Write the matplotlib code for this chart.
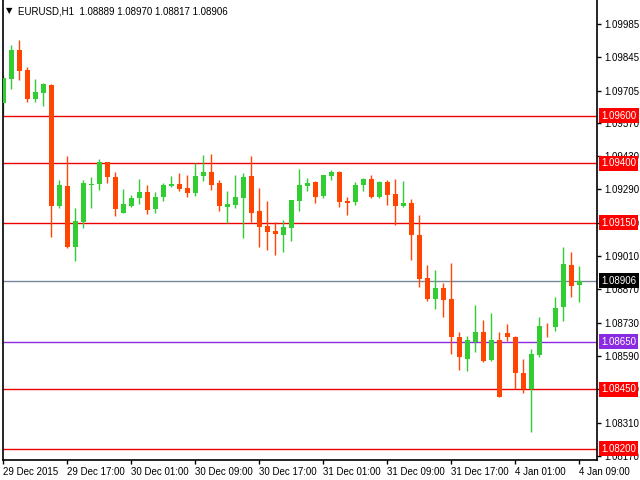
import matplotlib.pyplot as plt
import numpy as np

# EURUSD H1 candles, oldest first
opens = [1.09655, 1.09755, 1.09876, 1.09792, 1.09670, 1.09697, 1.09729, 1.09222, 1.09305, 1.09049,
         1.09154, 1.09309, 1.09314, 1.09406, 1.09343, 1.09193, 1.09221, 1.09252, 1.09280, 1.09209,
         1.09260, 1.09306, 1.09313, 1.09296, 1.09277, 1.09347, 1.09364, 1.09317, 1.09218, 1.09226,
         1.09256, 1.09347, 1.09200, 1.09137, 1.09116, 1.09100, 1.09130, 1.09243, 1.09306, 1.09322,
         1.09263, 1.09347, 1.09364, 1.09242, 1.09238, 1.09309, 1.09334, 1.09259, 1.09322, 1.09271,
         1.09222, 1.09233, 1.09099, 1.08918, 1.08831, 1.08876, 1.08830, 1.08671, 1.08579, 1.08650,
         1.08692, 1.08575, 1.08658, 1.08687, 1.08668, 1.08519, 1.08452, 1.08595, 1.08713, 1.08710,
         1.08794, 1.08973, 1.08889]
highs = [1.09771, 1.09897, 1.09918, 1.09805, 1.09754, 1.09737, 1.09733, 1.09330, 1.09431, 1.09212,
         1.09330, 1.09343, 1.09418, 1.09406, 1.09364, 1.09292, 1.09267, 1.09334, 1.09309, 1.09280,
         1.09317, 1.09347, 1.09359, 1.09351, 1.09401, 1.09435, 1.09439, 1.09330, 1.09284, 1.09351,
         1.09359, 1.09431, 1.09296, 1.09242, 1.09154, 1.09162, 1.09246, 1.09376, 1.09340, 1.09326,
         1.09351, 1.09372, 1.09368, 1.09259, 1.09322, 1.09338, 1.09351, 1.09326, 1.09330, 1.09334,
         1.09326, 1.09250, 1.09183, 1.08973, 1.08952, 1.08897, 1.08979, 1.08692, 1.08675, 1.08805,
         1.08742, 1.08771, 1.08692, 1.08725, 1.08672, 1.08578, 1.08620, 1.08755, 1.08729, 1.08839,
         1.09049, 1.09028, 1.08970]
lows = [1.09603, 1.09712, 1.09750, 1.09659, 1.09659, 1.09641, 1.09092, 1.09214, 1.09044, 1.08991,
        1.09126, 1.09214, 1.09289, 1.09319, 1.09180, 1.09193, 1.09217, 1.09230, 1.09188, 1.09193,
        1.09243, 1.09302, 1.09284, 1.09260, 1.09264, 1.09327, 1.09289, 1.09201, 1.09149, 1.09214,
        1.09084, 1.09155, 1.09050, 1.09037, 1.09016, 1.09029, 1.09075, 1.09201, 1.09285, 1.09233,
        1.09254, 1.09330, 1.09217, 1.09183, 1.09225, 1.09284, 1.09254, 1.09254, 1.09225, 1.09142,
        1.09218, 1.08994, 1.08878, 1.08823, 1.08789, 1.08752, 1.08600, 1.08533, 1.08529, 1.08605,
        1.08563, 1.08567, 1.08416, 1.08655, 1.08452, 1.08433, 1.08269, 1.08584, 1.08668, 1.08693,
        1.08739, 1.08840, 1.08817]
closes = [1.09757, 1.09876, 1.09789, 1.09670, 1.09700, 1.09733, 1.09222, 1.09309, 1.09049, 1.09158,
          1.09317, 1.09313, 1.09406, 1.09344, 1.09209, 1.09229, 1.09254, 1.09280, 1.09205, 1.09259,
          1.09309, 1.09313, 1.09292, 1.09277, 1.09347, 1.09364, 1.09309, 1.09222, 1.09229, 1.09259,
          1.09343, 1.09193, 1.09134, 1.09113, 1.09104, 1.09133, 1.09246, 1.09309, 1.09317, 1.09259,
          1.09351, 1.09364, 1.09238, 1.09233, 1.09309, 1.09334, 1.09259, 1.09322, 1.09268, 1.09222,
          1.09233, 1.09100, 1.08915, 1.08831, 1.08876, 1.08827, 1.08668, 1.08584, 1.08658, 1.08692,
          1.08571, 1.08658, 1.08416, 1.08668, 1.08517, 1.08452, 1.08599, 1.08717, 1.08710, 1.08792,
          1.08977, 1.08886, 1.08906]

red_levels = [1.09600, 1.09400, 1.09150, 1.08450, 1.08200]
violet_level = 1.08650
bid = 1.08906

price_ticks = [1.09985, 1.09845, 1.09705, 1.09570, 1.09430, 1.09290, 1.09150,
               1.09010, 1.08870, 1.08730, 1.08590, 1.08450, 1.08310, 1.08170]
time_labels = ['29 Dec 2015', '29 Dec 17:00', '30 Dec 01:00', '30 Dec 09:00', '30 Dec 17:00',
               '31 Dec 01:00', '31 Dec 09:00', '31 Dec 17:00', '4 Jan 01:00', '4 Jan 09:00']

plt.rcParams['font.family'] = ['Liberation Sans', 'DejaVu Sans']

fig = plt.figure(figsize=(6.4, 4.8), dpi=100)
ax = fig.add_axes([3 / 640, 20 / 480, 594 / 640, 460 / 480])

o = np.array(opens)
h = np.array(highs)
l = np.array(lows)
c = np.array(closes)
x = np.arange(len(o))
up = c >= o
colors = np.where(up, '#32cd32', '#ff4500')

for lv in red_levels:
    ax.axhline(lv, color='#ee0000', lw=1, zorder=1)
ax.axhline(violet_level, color='#8a2be2', lw=1, zorder=1)
ax.axhline(bid, color='#778899', lw=1, zorder=1)

ax.vlines(x, l, h, colors=colors, lw=1, zorder=2)
body = np.maximum(np.abs(c - o), 0.00003)
ax.bar(x, body, bottom=np.minimum(o, c), width=0.62, color=colors, zorder=3, linewidth=0)

ax.set_xlim(-0.0625, 74.19)
ax.set_ylim(1.08153, 1.10086)

ax.yaxis.tick_right()
ax.set_yticks(price_ticks)
ax.set_yticklabels(['%.5f' % v for v in price_ticks])
ax.set_xticks(np.arange(0, 73, 8))
ax.set_xticklabels(time_labels, ha='left')
ax.tick_params(axis='both', length=3, width=1, labelsize=7, pad=2, colors='black')
ax.spines['top'].set_visible(False)
for s in ['left', 'right', 'bottom']:
    ax.spines[s].set_linewidth(1.2)

# price boxes on the scale
def price_box(val, face):
    ax.text(1.0 + 4 / 594, val, '%.5f' % val, transform=ax.get_yaxis_transform(),
            ha='left', va='center', fontsize=7, color='white', clip_on=False, zorder=10,
            bbox=dict(boxstyle='square,pad=0.25', fc=face, ec='none'))

for lv in red_levels:
    price_box(lv, '#ff0000')
price_box(violet_level, '#8a2be2')
price_box(bid, '#000000')

fig.text(6 / 640, 1 - 11 / 480, '\u25bc', fontsize=6, va='center', ha='left',
         family='DejaVu Sans')
fig.text(18 / 640, 1 - 11 / 480, 'EURUSD,H1  1.08889 1.08970 1.08817 1.08906',
         fontsize=7, va='center', ha='left')

fig.savefig('out.png', dpi=100)
